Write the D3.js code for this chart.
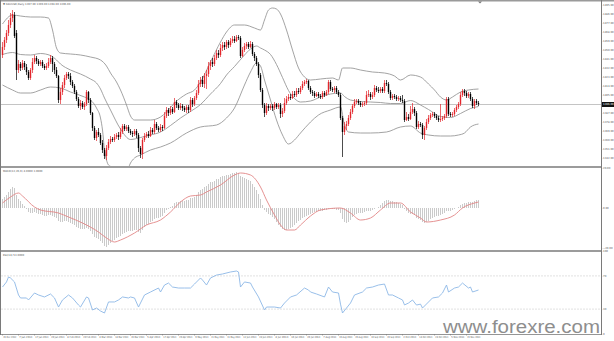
<!DOCTYPE html>
<html>
<head>
<meta charset="utf-8">
<title>XAUUSD Daily</title>
<script src="https://cdn.jsdelivr.net/npm/d3@7/dist/d3.min.js"></script>
<style>
  html, body { margin: 0; padding: 0; background: #ffffff; }
  svg { display: block; }
  .tiny { font-family: Tahoma, "DejaVu Sans", sans-serif; font-size: 2.6px; fill: #555; }
</style>
</head>
<body>
<div class="chart"></div>
<script>
// daily candles, [open, high, low, close]
const candles = [
  [1445,1458,1442,1453],[1453,1463,1450,1460],[1460,1470,1457,1467],[1467,1480,1464,1475],[1475,1487,1472,1482],
  [1482,1490,1478,1486],[1485,1488,1462,1464],[1467,1470,1420,1430],[1430,1440,1427,1436],[1436,1438,1429,1432],
  [1432,1440,1430,1437],[1437,1439,1430,1433],[1433,1436,1425,1428],[1428,1430,1420,1422],[1422,1432,1420,1430],
  [1430,1442,1427,1438],[1438,1445,1436,1442],[1442,1444,1436,1439],[1439,1441,1434,1436],[1436,1440,1434,1438],
  [1438,1440,1432,1434],[1434,1436,1430,1432],[1432,1437,1430,1434],[1434,1442,1432,1438],[1438,1445,1436,1442],
  [1442,1444,1428,1436],[1436,1438,1426,1430],[1430,1433,1422,1424],[1424,1425,1397,1400],[1400,1412,1396,1408],
  [1408,1418,1405,1415],[1415,1425,1412,1422],[1422,1428,1420,1426],[1426,1428,1421,1424],[1424,1427,1415,1418],
  [1418,1420,1412,1414],[1414,1416,1406,1408],[1408,1410,1399,1401],[1401,1403,1392,1394],[1394,1400,1390,1397],
  [1397,1399,1391,1393],[1393,1398,1390,1396],[1396,1410,1394,1408],[1408,1409,1397,1400],[1400,1402,1385,1387],
  [1387,1388,1369,1372],[1372,1374,1360,1362],[1362,1370,1359,1368],[1368,1372,1363,1365],[1365,1367,1355,1357],
  [1357,1360,1347,1350],[1350,1352,1341,1344],[1344,1355,1340,1352],[1352,1361,1350,1358],[1358,1364,1356,1361],
  [1361,1363,1358,1360],[1360,1366,1358,1363],[1363,1367,1361,1365],[1365,1368,1360,1363],[1363,1372,1361,1368],
  [1368,1376,1366,1374],[1374,1376,1369,1371],[1371,1375,1369,1373],[1373,1375,1367,1369],[1369,1371,1365,1367],
  [1367,1369,1363,1366],[1366,1371,1364,1369],[1369,1371,1362,1365],[1365,1367,1348,1352],[1352,1354,1342,1346],
  [1346,1362,1341,1360],[1360,1367,1358,1364],[1364,1368,1362,1366],[1366,1369,1362,1364],[1364,1373,1363,1370],
  [1370,1372,1366,1368],[1368,1380,1366,1376],[1376,1378,1370,1372],[1372,1374,1368,1370],[1370,1376,1368,1373],
  [1373,1375,1369,1372],[1372,1388,1371,1384],[1384,1393,1382,1390],[1390,1392,1384,1387],[1387,1394,1385,1391],
  [1391,1393,1386,1388],[1388,1402,1387,1398],[1398,1400,1392,1395],[1395,1397,1390,1392],[1392,1397,1390,1394],
  [1394,1396,1389,1392],[1392,1394,1388,1390],[1390,1395,1387,1393],[1393,1395,1387,1390],[1390,1403,1388,1400],
  [1400,1402,1393,1396],[1396,1404,1394,1402],[1402,1410,1400,1407],[1407,1420,1405,1416],[1416,1423,1413,1420],
  [1420,1424,1413,1416],[1416,1427,1412,1424],[1424,1430,1411,1426],[1426,1438,1423,1434],[1434,1440,1430,1438],
  [1438,1442,1433,1436],[1436,1445,1434,1442],[1442,1450,1440,1447],[1447,1450,1442,1445],[1445,1456,1443,1452],
  [1452,1458,1449,1455],[1455,1458,1450,1453],[1453,1460,1451,1458],[1458,1460,1452,1455],[1455,1462,1453,1459],
  [1459,1464,1457,1461],[1461,1464,1457,1459],[1459,1465,1458,1463],[1463,1465,1460,1462],[1462,1464,1442,1444],
  [1444,1453,1443,1450],[1450,1457,1448,1454],[1454,1458,1451,1456],[1456,1458,1451,1453],[1453,1459,1452,1456],
  [1456,1458,1444,1446],[1446,1448,1439,1442],[1442,1444,1434,1436],[1436,1438,1422,1425],[1425,1427,1408,1410],
  [1410,1412,1392,1395],[1395,1397,1383,1387],[1387,1397,1385,1394],[1394,1396,1389,1392],[1392,1396,1390,1394],
  [1394,1396,1389,1392],[1392,1398,1390,1396],[1396,1397,1391,1393],[1393,1397,1391,1395],[1395,1397,1382,1386],
  [1386,1392,1383,1389],[1389,1402,1387,1397],[1397,1404,1395,1401],[1401,1406,1399,1403],[1403,1406,1400,1402],
  [1402,1409,1401,1406],[1406,1409,1403,1405],[1405,1412,1403,1409],[1409,1412,1406,1408],[1408,1414,1406,1412],
  [1412,1419,1410,1416],[1416,1420,1414,1418],[1418,1421,1416,1419],[1419,1420,1410,1412],[1412,1414,1406,1408],
  [1408,1410,1404,1407],[1407,1409,1402,1404],[1404,1408,1403,1406],[1406,1408,1402,1404],[1404,1406,1401,1403],
  [1403,1409,1401,1407],[1407,1409,1403,1405],[1405,1410,1404,1408],[1408,1420,1406,1418],[1418,1420,1409,1411],
  [1411,1413,1408,1410],[1410,1414,1407,1412],[1412,1414,1406,1408],[1408,1410,1403,1405],[1405,1407,1380,1382],
  [1382,1384,1343,1368],[1368,1378,1365,1374],[1374,1379,1370,1376],[1376,1385,1374,1382],[1382,1391,1380,1388],
  [1388,1396,1386,1394],[1394,1401,1392,1398],[1398,1401,1396,1399],[1399,1401,1395,1397],[1397,1399,1393,1395],
  [1395,1398,1393,1396],[1396,1399,1394,1397],[1397,1409,1395,1405],[1405,1410,1403,1406],[1406,1408,1400,1403],
  [1403,1408,1401,1405],[1405,1415,1403,1412],[1412,1414,1408,1410],[1410,1413,1407,1409],[1409,1413,1407,1411],
  [1411,1413,1407,1409],[1409,1420,1407,1417],[1417,1420,1414,1416],[1416,1418,1406,1408],[1408,1410,1400,1402],
  [1402,1406,1400,1404],[1404,1406,1401,1403],[1403,1405,1399,1401],[1401,1404,1399,1402],[1402,1404,1398,1400],
  [1400,1405,1397,1399],[1399,1401,1378,1380],[1380,1388,1379,1383],[1383,1386,1379,1381],[1381,1394,1380,1388],
  [1388,1397,1386,1391],[1391,1393,1384,1387],[1387,1389,1371,1373],[1373,1379,1371,1376],[1376,1378,1373,1375],
  [1375,1377,1361,1365],[1365,1374,1360,1372],[1372,1381,1370,1378],[1378,1385,1376,1382],[1382,1387,1380,1385],
  [1385,1388,1383,1386],[1386,1388,1382,1384],[1384,1386,1380,1382],[1382,1384,1378,1380],[1380,1396,1378,1381],
  [1381,1384,1379,1382],[1382,1386,1380,1384],[1384,1403,1382,1401],[1401,1403,1384,1386],[1386,1388,1383,1385],
  [1385,1388,1383,1386],[1386,1392,1384,1390],[1390,1395,1388,1393],[1393,1398,1391,1396],[1396,1408,1394,1405],
  [1405,1411,1403,1409],[1409,1411,1404,1407],[1407,1409,1402,1404],[1404,1408,1402,1406],[1406,1408,1399,1401],
  [1401,1403,1392,1394],[1394,1401,1391,1399],[1399,1401,1395,1397],[1397,1399,1394,1396]
];

// one date label every 8 bars
const dateLabels = [
  "26 Dec 2012","7 Jan 2013","17 Jan 2013","29 Jan 2013","8 Feb 2013","20 Feb 2013","4 Mar 2013","14 Mar 2013",
  "26 Mar 2013","5 Apr 2013","17 Apr 2013","29 Apr 2013","9 May 2013","21 May 2013","31 May 2013","12 Jun 2013",
  "24 Jun 2013","4 Jul 2013","16 Jul 2013","26 Jul 2013","7 Aug 2013","19 Aug 2013","29 Aug 2013","10 Sep 2013",
  "20 Sep 2013","2 Oct 2013","14 Oct 2013","24 Oct 2013","5 Nov 2013","15 Nov 2013"
];
const labelEvery = 8;

const priceTicks = [1495,1486,1477,1468,1459,1450,1441,1432,1423,1414,1405,1387,1378,1369,1360,1351,1342];

// Bollinger bands (20, 2), [bar, price]
const bbUpper = [
  [0,1476],[5,1485],[9,1484],[14,1483],[19,1483],[23,1482],[25,1470],[27,1452],[29,1447],[34,1446],[39,1445],
  [44,1443],[49,1440],[52,1434],[54,1427],[57,1418],[59,1410],[62,1395],[64,1384],[66,1380],[74,1380],[79,1383],
  [82,1388],[86,1397],[92,1406],[96,1410],[99,1418],[104,1438],[109,1458],[112,1468],[116,1475],[121,1475],
  [126,1472],[129,1470],[131,1480],[133,1490],[135,1492],[137,1491],[139,1486],[142,1470],[145,1450],[148,1432],
  [151,1423],[154,1420],[159,1421],[165,1422],[168,1420],[170,1432],[174,1432],[179,1430],[185,1428],[191,1427],
  [196,1424],[199,1420],[204,1425],[209,1423],[213,1416],[216,1410],[219,1403],[222,1400],[225,1403],[229,1408],
  [233,1410],[238,1411]
];
const bbMiddle = [
  [0,1445.5],[5,1447.5],[9,1445.5],[14,1445],[19,1446.5],[24,1444.5],[27,1440],[29,1436],[34,1430],[39,1426],
  [44,1421],[47,1417],[49,1411],[51,1402],[54,1390],[59,1371],[64,1360.5],[69,1362.5],[74,1365],[79,1368],
  [84,1374.5],[89,1382],[94,1388.5],[99,1395.5],[104,1406],[109,1416.5],[112,1425],[116,1433.5],[121,1445],
  [124,1451],[127,1454],[129,1452],[131,1450],[134,1445.5],[137,1435.5],[140,1422.5],[143,1409.5],[146,1401.5],
  [149,1398],[154,1399],[159,1403],[164,1406],[169,1407],[171,1403.5],[174,1400],[179,1398.5],[184,1398],
  [189,1397.5],[194,1396.5],[199,1396.5],[204,1399.5],[209,1395],[213,1390.5],[219,1383.5],[224,1382.5],
  [229,1386.5],[234,1391.5],[238,1393.5]
];
const bbLower = [
  [0,1415],[5,1410],[9,1407],[14,1407],[19,1410],[24,1413],[29,1412],[34,1408],[41,1403],[44,1400],[47,1392],
  [49,1382],[50,1370],[51,1350],[52,1340],[53,1335],[55,1333],[60,1332],[63,1333],[64,1337],[66,1342],[69,1345],
  [74,1350],[79,1353],[84,1357],[92,1367],[99,1373],[107,1375],[112,1382],[116,1392],[121,1415],[124,1428],
  [127,1437],[129,1434],[131,1420],[134,1400],[137,1380],[140,1365],[143,1356],[146,1360],[149,1367],[154,1378],
  [158,1385],[164,1390],[169,1393],[171,1375],[173,1368],[179,1367],[184,1367],[192,1368],[199,1373],[204,1374],
  [209,1367],[213,1365],[219,1364],[224,1364],[228,1365],[231,1367],[234,1373],[238,1376]
];

// MACD(12,26,9) main values, one per bar
const macdMain = [
  4.5,5.5,6.5,8,9.5,10.5,10,6.5,4.5,3.5,
  2,1,-0.5,-2,-2.5,-2.5,-2,-2.5,-3,-3,
  -3.5,-4,-4,-3.5,-3.5,-4,-4.5,-5,-6.5,-7,
  -7,-6.5,-6.5,-7,-7.5,-8,-8.5,-9.5,-10,-10.5,
  -10.5,-10.5,-10,-10.5,-11.5,-13,-14.5,-15,-15.5,-16.5,
  -17.5,-19,-19.5,-18.5,-17.5,-16.5,-16,-15,-14.5,-14,
  -13,-12.5,-12,-11.5,-11.5,-11.5,-11,-11,-12,-12.5,
  -11,-9.5,-8.5,-8,-7,-6.5,-5.5,-5,-5,-4.5,
  -4,-2.5,-1,-0.5,0.5,1,2.5,3,3,3.5,
  3.5,3.5,4,4,5,5,5.5,6.5,8,9,
  9.5,10.5,11,12,13,13,13.5,14.5,14.5,15.5,
  16,16,16.5,16.5,17,17.5,17.5,18,17.5,16,
  15.5,15,14.5,14,13.5,12,10.5,9,7,4.5,
  1.5,-1,-2,-3,-3.5,-4.5,-5.5,-7,-8.5,-9.5,
  -10.5,-11,-11,-10.5,-10,-9.5,-8.5,-7.5,-6.5,-6,
  -5,-4.5,-4,-3.5,-3,-2.5,-2,-2,-1.5,-1.5,
  -1.5,-1,-1,-0.5,-0.5,-0.5,-0.5,-1,-1,-2.5,
  -5.5,-7,-7.5,-7,-6,-4.5,-3.5,-3,-2.5,-2.5,
  -2.5,-2,-1.5,-1.5,-1.5,-1,-0.5,0,0.5,1.5,
  2.5,3.5,4,4,3.5,3.5,3,3,2.5,2,
  1.5,-0.5,-1.5,-2.5,-3,-3,-3.5,-5,-5.5,-6,
  -7,-7.5,-7,-6.5,-5.5,-5,-4.5,-4,-4,-3.5,
  -3,-2.5,-1.5,-1.5,-1.5,-1,-0.5,0,0.5,1.5,
  2,2.5,2.5,3,3,3,3.5,4,4
];
// signal line, [bar, value]
const macdSignal = [
  [0,2.5],[4,5.5],[8,7.5],[10,6],[16,0.5],[19,-1],[28,-2.5],[33,-4.5],[40,-7.5],[48,-12],[52,-15],[56,-17],
  [59,-16],[66,-12.5],[72,-8.5],[79,-6],[84,-2],[89,3],[94,6],[99,6.5],[102,8],[109,11.5],[116,16.5],[119,17.5],
  [124,16.5],[129,10.5],[132,4],[136,-3.5],[139,-8.5],[142,-11],[146,-11],[149,-8.5],[154,-4],[159,-1],[169,0],
  [174,-2.5],[179,-6],[184,-5],[189,-1],[194,2.5],[199,2.5],[204,-2],[209,-5],[212,-7],[219,-6],[226,-3.5],
  [230,0],[236,2.5],[238,3]
];
const macdTicks = [20, 0, -20];

// RSI(14), [bar, value]
const rsiValues = [
  [0,56.6],[2,62.7],[3,68.7],[4,67.5],[6,62.7],[8,47],[9,43.4],[12,43.4],[13,41],[16,49.4],[18,47],[21,44.6],
  [24,48.2],[26,43.4],[28,32.5],[30,41],[33,47],[35,43.4],[38,34.9],[39,32.5],[42,44.6],[43,43.4],[45,28.9],
  [47,31.3],[49,27.7],[51,25.3],[53,38.6],[56,38.6],[58,41],[60,44.6],[63,43.4],[64,44.6],[66,43.4],[68,32.5],
  [71,47],[74,50.6],[78,55.4],[79,50.6],[81,59],[83,61.4],[85,56.6],[88,55.4],[91,55.4],[94,55.4],[96,60.2],
  [99,67.5],[100,65],[102,59],[104,67.5],[107,71],[110,72.3],[114,74.7],[117,75.9],[118,74.7],[119,56.6],
  [121,62.7],[124,61.4],[125,56.6],[128,44.6],[131,28.9],[132,32.5],[136,32.5],[139,31.3],[141,37.3],[144,44.6],
  [147,47],[151,55.4],[153,53],[154,50.6],[157,48.2],[161,44.6],[163,56.6],[165,50.6],[168,49.4],[169,36],
  [170,25.3],[174,37.3],[176,47],[180,50.6],[182,55.4],[185,56.6],[188,59],[191,60.2],[193,47],[195,47],
  [198,43.4],[200,41],[201,35],[203,37.3],[205,41],[207,34.9],[209,36],[210,31.3],[215,43.4],[218,44.6],
  [220,49.4],[222,59],[223,50.6],[226,55.4],[228,56.6],[230,61.4],[233,55.4],[234,56.6],[235,50.6],[238,53]
];
const rsiLevels = [70, 30];
const rsiTicks = [100, 70, 30, 0];

var width = 614, height = 341, plotRight = 601;
var bullColor = "#e3262c", bearColor = "#000000";

var svg = d3.select(".chart").append("svg")
    .attr("width", width)
    .attr("height", height);

var x = d3.scaleLinear().domain([0, candles.length - 1]).range([2, 478]);
var yPrice = d3.scaleLinear().domain([1334, 1499]).range([166, 1]);
var yMacd = d3.scaleLinear().domain([-20.5, 20.5]).range([249, 167]);
var yRsi = d3.scaleLinear().domain([0, 100]).range([334, 251]);

var defs = svg.append("defs");
function panel(id, top, bottom) {
  defs.append("clipPath").attr("id", id)
    .append("rect").attr("x", 1).attr("y", top).attr("width", plotRight - 1).attr("height", bottom - top);
  return svg.append("g").attr("clip-path", "url(#" + id + ")");
}
var gMain = panel("clipMain", 1, 166);
var gMacd = panel("clipMacd", 168, 250);
var gRsi = panel("clipRsi", 252, 334);

// price line of the last close
var lastBar = candles[candles.length - 1];
var lastY = Math.round(yPrice(lastBar[3])) + 0.5;
gMain.append("line")
    .attr("x1", 0).attr("x2", plotRight)
    .attr("y1", lastY).attr("y2", lastY)
    .attr("stroke", "#c4c4c4").attr("stroke-width", 1);

// bollinger bands
var bandLine = d3.line()
    .x(function(d) { return x(d[0]) + 0.5; })
    .y(function(d) { return yPrice(d[1]); })
    .curve(d3.curveMonotoneX);
[bbUpper, bbMiddle, bbLower].forEach(function(band) {
  gMain.append("path")
      .attr("d", bandLine(band))
      .attr("fill", "none")
      .attr("stroke", "#8c8c8c")
      .attr("stroke-width", 0.8);
});

// candles
function candleColor(d) { return d[3] >= d[0] ? bullColor : bearColor; }
gMain.selectAll("line.wick")
    .data(candles)
    .enter()
    .append("line")
      .attr("class", "wick")
      .attr("x1", function(d, i) { return x(i) + 0.5; })
      .attr("x2", function(d, i) { return x(i) + 0.5; })
      .attr("y1", function(d) { return yPrice(d[1]); })
      .attr("y2", function(d) { return yPrice(d[2]); })
      .attr("stroke", candleColor)
      .attr("stroke-width", 0.7);
gMain.selectAll("rect.body")
    .data(candles)
    .enter()
    .append("rect")
      .attr("class", "body")
      .attr("x", function(d, i) { return x(i) - 0.2; })
      .attr("width", 1.4)
      .attr("y", function(d) { return yPrice(Math.max(d[0], d[3])); })
      .attr("height", function(d) { return Math.max(0.8, Math.abs(yPrice(d[0]) - yPrice(d[3]))); })
      .attr("fill", candleColor);

// MACD histogram + signal
gMacd.selectAll("line.hist")
    .data(macdMain)
    .enter()
    .append("line")
      .attr("class", "hist")
      .attr("x1", function(d, i) { return x(i) + 0.5; })
      .attr("x2", function(d, i) { return x(i) + 0.5; })
      .attr("y1", yMacd(0))
      .attr("y2", function(d) { return yMacd(d); })
      .attr("stroke", "#bcbcbc")
      .attr("stroke-width", 0.8);
gMacd.append("path")
    .attr("d", d3.line()
      .x(function(d) { return x(d[0]) + 0.5; })
      .y(function(d) { return yMacd(d[1]); })
      .curve(d3.curveMonotoneX)(macdSignal))
    .attr("fill", "none")
    .attr("stroke", "#e28686")
    .attr("stroke-width", 0.9);

// RSI
gRsi.selectAll("line.level")
    .data(rsiLevels)
    .enter()
    .append("line")
      .attr("class", "level")
      .attr("x1", 1).attr("x2", plotRight)
      .attr("y1", function(d) { return yRsi(d); })
      .attr("y2", function(d) { return yRsi(d); })
      .attr("stroke", "#d4d4d4")
      .attr("stroke-width", 0.7)
      .attr("stroke-dasharray", "2,1");
gRsi.append("path")
    .attr("d", d3.line()
      .x(function(d) { return x(d[0]) + 0.5; })
      .y(function(d) { return yRsi(d[1]); })(rsiValues))
    .attr("fill", "none")
    .attr("stroke", "#8db8e6")
    .attr("stroke-width", 0.9);

// right-hand scales
function rightAxis(scale, values, fmt) {
  var g = svg.append("g")
      .attr("transform", "translate(" + plotRight + ",0)")
      .call(d3.axisRight(scale).tickValues(values).tickSize(1.2).tickPadding(0.8).tickFormat(fmt));
  g.select(".domain").remove();
  g.selectAll("line").attr("stroke", "#666").attr("stroke-width", 0.5);
  g.selectAll("text").attr("class", "tiny").attr("font-size", null).attr("fill", null);
  return g;
}
rightAxis(yPrice, priceTicks, d3.format(".2f"));
rightAxis(yMacd, macdTicks, d3.format(".2f"));
rightAxis(yRsi, rsiTicks, d3.format("d"));

// last price marker
svg.append("rect")
    .attr("x", plotRight + 1).attr("y", lastY - 2.5)
    .attr("width", 12).attr("height", 5)
    .attr("fill", "#111");
svg.append("text")
    .attr("class", "tiny")
    .attr("x", plotRight + 2).attr("y", lastY + 0.9)
    .style("fill", "#fff")
    .text(d3.format(".2f")(lastBar[3]));

// date axis
var dateAxis = svg.append("g")
    .attr("transform", "translate(0,334)")
    .call(d3.axisBottom(x)
      .tickValues(dateLabels.map(function(d, k) { return k * labelEvery; }))
      .tickSize(1.5)
      .tickPadding(0.8)
      .tickFormat(function(d, k) { return dateLabels[k]; }));
dateAxis.select(".domain").remove();
dateAxis.selectAll("line").attr("stroke", "#666").attr("stroke-width", 0.5);
dateAxis.selectAll("text")
    .attr("class", "tiny").attr("font-size", null).attr("fill", null)
    .attr("text-anchor", "start").attr("dx", 0.8)
    .attr("textLength", 13).attr("lengthAdjust", "spacingAndGlyphs");

// frame and panel separators
var frame = svg.append("g").attr("stroke", "#7a7a7a").attr("fill", "none");
frame.append("line").attr("x1", 0).attr("x2", width).attr("y1", 0.75).attr("y2", 0.75).attr("stroke-width", 1.5).attr("stroke", "#9a9a9a");
frame.append("line").attr("x1", 0).attr("x2", plotRight + 1).attr("y1", 167).attr("y2", 167).attr("stroke-width", 1.5);
frame.append("line").attr("x1", 0).attr("x2", plotRight + 1).attr("y1", 251).attr("y2", 251).attr("stroke-width", 1.5);
frame.append("line").attr("x1", 0).attr("x2", plotRight + 1).attr("y1", 334.5).attr("y2", 334.5).attr("stroke-width", 0.8);
frame.append("line").attr("x1", 0.5).attr("x2", 0.5).attr("y1", 0).attr("y2", 335).attr("stroke-width", 1);
frame.append("line").attr("x1", plotRight + 0.5).attr("x2", plotRight + 0.5).attr("y1", 0).attr("y2", 335).attr("stroke-width", 1);

// chart shift marker
svg.append("path").attr("d", "M478,1.5 L482,1.5 L480,3.5 Z").attr("fill", "#777");

// panel titles
svg.append("text").attr("class", "tiny").attr("x", 3).attr("y", 4.8)
    .text("▼ XAUUSD,Daily  " + lastBar.map(d3.format(".2f")).join(" "));
svg.append("text").attr("class", "tiny").attr("x", 3).attr("y", 171.5)
    .text("MACD(12,26,9) " + d3.format(".4f")(macdMain[macdMain.length - 1]) + " " + d3.format(".4f")(macdSignal[macdSignal.length - 1][1]));
svg.append("text").attr("class", "tiny").attr("x", 3).attr("y", 255.5)
    .text("RSI(14) " + d3.format(".4f")(rsiValues[rsiValues.length - 1][1]));

// watermark
svg.append("text")
    .attr("x", 443).attr("y", 333)
    .attr("font-family", "'Liberation Sans', Arial, sans-serif")
    .attr("font-size", 18)
    .attr("textLength", 157)
    .attr("lengthAdjust", "spacingAndGlyphs")
    .attr("fill", "#8e8e8e")
    .text("www.forexre.com");
</script>
</body>
</html>
